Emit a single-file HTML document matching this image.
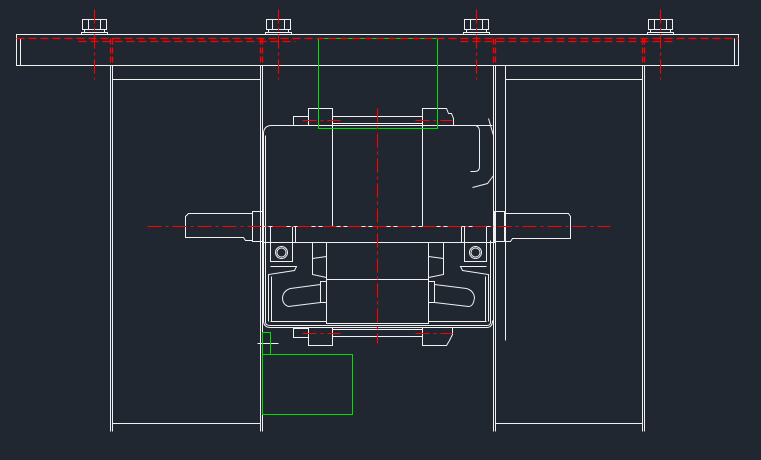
<!DOCTYPE html>
<html><head><style>
html,body{margin:0;padding:0;background:#212731;}
svg{display:block}
</style></head><body>
<svg width="761" height="460" viewBox="0 0 761 460" xmlns="http://www.w3.org/2000/svg">
<rect width="761" height="460" fill="#212731"/>
<g transform="translate(0.5,0.5)">
<g fill="none" stroke="#f0f0f0" stroke-width="1">
<rect x="16" y="34" width="722" height="31"/>
<line x1="20" y1="38" x2="20" y2="65"/>
<line x1="734" y1="38" x2="734" y2="65"/>
<g id="b">
<rect x="82" y="19" width="24" height="10"/>
<line x1="88" y1="19" x2="88" y2="29"/><line x1="100" y1="19" x2="100" y2="29"/>
<rect x="84" y="29" width="20" height="3"/>
<rect x="81" y="32" width="26" height="2"/>
</g>
<use href="#b" x="184"/><use href="#b" x="382"/><use href="#b" x="566"/>
<line x1="110" y1="65" x2="110" y2="431"/><line x1="112" y1="65" x2="112" y2="431"/>
<line x1="260" y1="65" x2="260" y2="431"/><line x1="262" y1="65" x2="262" y2="431"/>
<line x1="112" y1="79" x2="260" y2="79"/><line x1="112" y1="423" x2="260" y2="423"/>
<line x1="493" y1="65" x2="493" y2="431"/><line x1="495" y1="65" x2="495" y2="431"/>
<line x1="505" y1="65" x2="505" y2="340"/>
<line x1="642" y1="65" x2="642" y2="431"/><line x1="644" y1="65" x2="644" y2="431"/>
<line x1="505" y1="79" x2="642" y2="79"/><line x1="495" y1="423" x2="642" y2="423"/>
<rect x="308" y="108" width="24" height="17"/>
<path d="M422 125 V108 H446 L448 113 H451 L453 118 V125"/>
<rect x="293" y="116" width="15" height="9"/>
<line x1="332" y1="116" x2="422" y2="116"/><line x1="332" y1="123" x2="422" y2="123"/>
<path d="M270 125 H492 M270 125 Q263 126 263 133 V320 Q263 327 270 327 H486 Q492 327 492 320"/>
<path d="M265 135 V322 Q265 325 270 325 H486 Q490 325 490 322 V240"/>
<line x1="332" y1="125" x2="332" y2="226"/><line x1="422" y1="125" x2="422" y2="226"/>
<path d="M470 125 H475 Q479 126 479 131 V166 Q479 171 474 171 H470"/>
<path d="M488 118 L493 135 V175 L487 183 L472 187"/>
<rect x="262" y="226" width="232" height="16"/>
<line x1="270" y1="226" x2="270" y2="242"/><line x1="292" y1="226" x2="292" y2="242"/>
<line x1="295" y1="226" x2="295" y2="242"/><line x1="461" y1="226" x2="461" y2="242"/>
<line x1="464" y1="226" x2="464" y2="242"/><line x1="486" y1="226" x2="486" y2="242"/>
<path d="M252 211 H262 V241 H252 Z"/>
<path d="M252 213 H188 L185 216 V237 H243 L245 240 H252"/>
<path d="M494 211 H504 V241 H494 Z"/>
<path d="M504 213 H568 L570 216 V238 H512 L510 241 H504"/>
<rect x="270" y="242" width="22" height="19"/><circle cx="281" cy="252" r="6"/><circle cx="281" cy="252" r="4.5"/>
<rect x="464" y="242" width="22" height="19"/><circle cx="475" cy="252" r="6"/><circle cx="475" cy="252" r="4.5"/>
<rect x="326" y="242" width="102" height="37"/>
<rect x="326" y="279" width="102" height="44"/>
<path d="M312 242 V274 L326 277 M312 258 L326 256"/>
<path d="M443 242 V274 L428 277 M443 258 L428 256"/>
<path d="M320 281 H326 V302 H320 Z M434 281 H428 V302 H434 Z"/>
<path d="M320 284 L290 288 Q283 290 282 297 Q282 304 288 306 L320 302"/>
<path d="M434 284 L466 288 Q473 290 474 297 Q473 306 468 306 L434 302"/>
<path d="M268 321 V274 L294 270 L296 266 H270"/>
<path d="M271 321 V276"/>
<path d="M488 321 V274 L462 270 L460 266 H486"/>
<path d="M485 321 V276"/>
<line x1="270" y1="321" x2="326" y2="321"/><line x1="428" y1="321" x2="486" y2="321"/>
<rect x="308" y="327" width="24" height="18"/>
<path d="M422 327 V345 H446 L449 340 L452 334 V327"/>
<rect x="293" y="328" width="15" height="9"/>
<line x1="332" y1="329" x2="422" y2="329"/><line x1="332" y1="336" x2="422" y2="336"/>
<line x1="257" y1="343" x2="278" y2="343"/>
</g>
<g fill="none" stroke="#00e000" stroke-width="1">
<rect x="318" y="38" width="119" height="90"/>
<rect x="262" y="332" width="8" height="22"/>
<rect x="262" y="354" width="90" height="60"/>
</g>
<g fill="none" stroke="#ff0000" stroke-width="1.3">
<line x1="16" y1="38" x2="738" y2="38" stroke-dasharray="8,4"/>
<path d="M78 41 H295 M460 41 H676" stroke-dasharray="8,4"/>
<path d="M110 38 V65 M112 38 V65 M260 38 V65 M262 38 V65 M493 38 V65 M495 38 V65 M642 38 V65 M644 38 V65" stroke-dasharray="6,3"/>
<g stroke-dasharray="14,4,3,4" stroke-width="1.1">
<line x1="94" y1="9" x2="94" y2="79"/><line x1="278" y1="9" x2="278" y2="79"/>
<line x1="476" y1="9" x2="476" y2="79"/><line x1="660" y1="9" x2="660" y2="79"/>
<line x1="147" y1="226" x2="610" y2="226"/>
<line x1="377" y1="108" x2="377" y2="343"/>
<line x1="302" y1="120" x2="340" y2="120"/><line x1="415" y1="120" x2="452" y2="120"/>
<line x1="302" y1="333" x2="340" y2="333"/><line x1="415" y1="333" x2="452" y2="333"/>
</g>
</g>
</g>
</svg>
</body></html>
